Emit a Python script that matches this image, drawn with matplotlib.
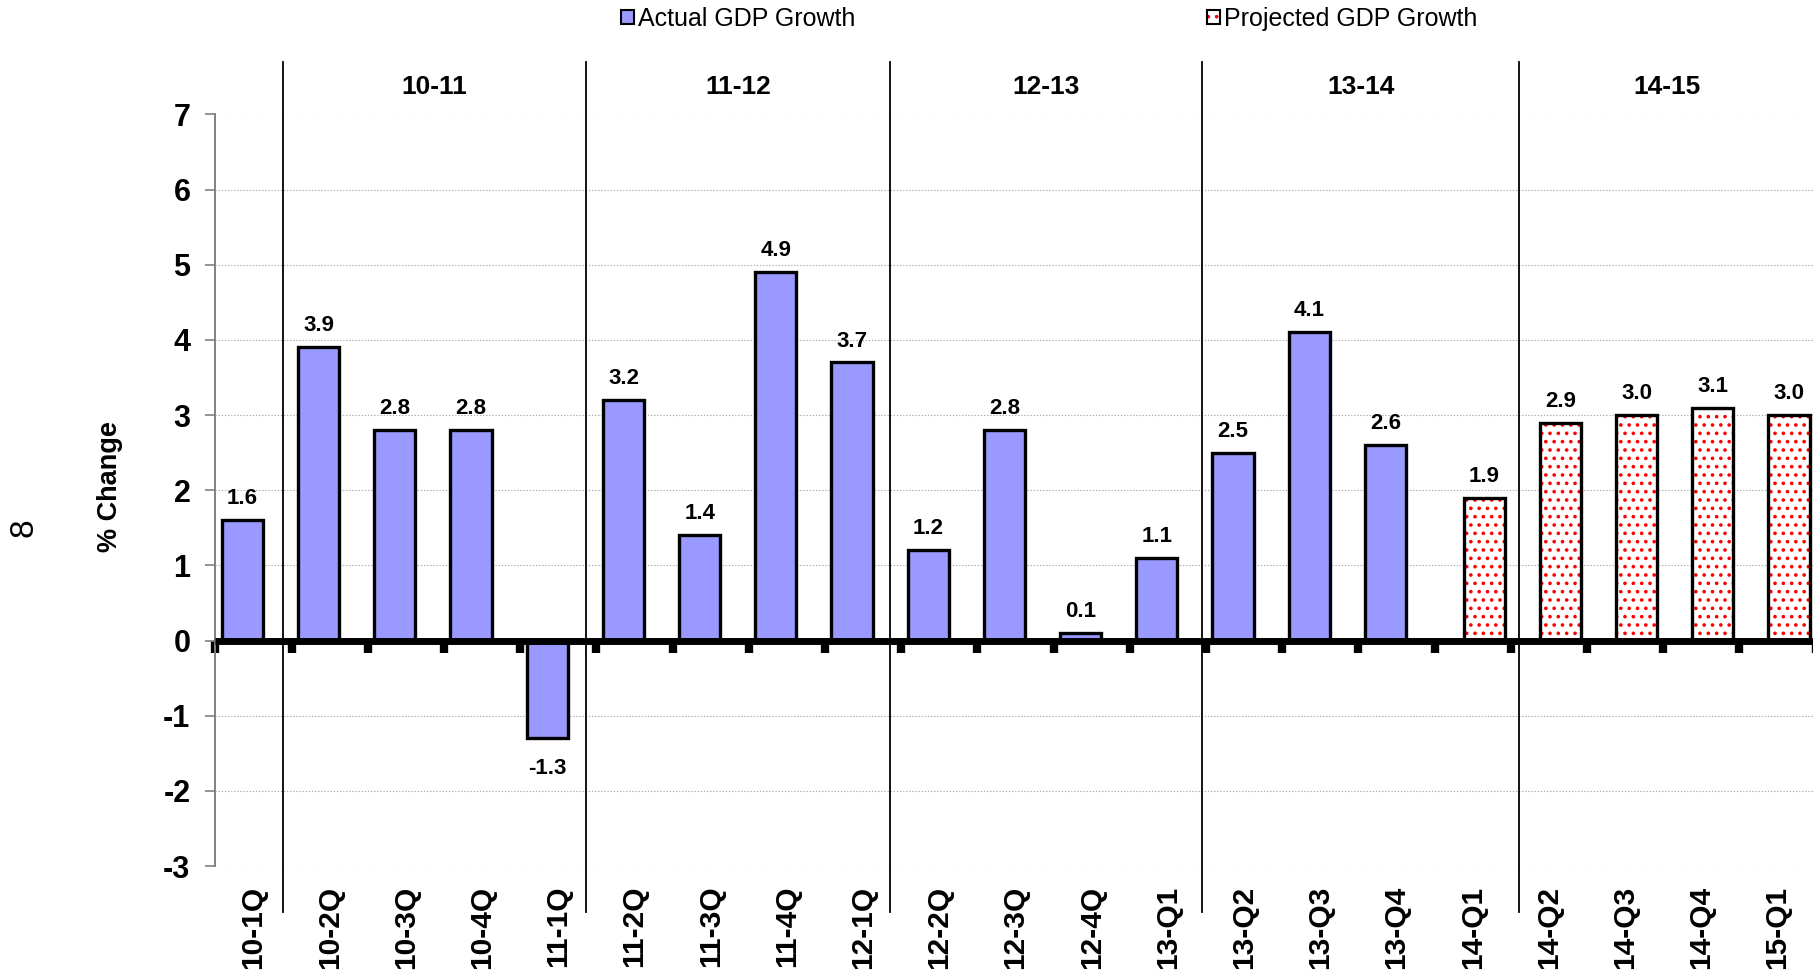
import matplotlib
matplotlib.use("Agg")
import matplotlib.pyplot as plt
from matplotlib.patches import Patch
from matplotlib.transforms import blended_transform_factory
from matplotlib.legend_handler import HandlerTuple
import numpy as np

# ---------------- data ----------------
quarters = ["10-1Q", "10-2Q", "10-3Q", "10-4Q", "11-1Q", "11-2Q", "11-3Q", "11-4Q",
            "12-1Q", "12-2Q", "12-3Q", "12-4Q", "13-Q1", "13-Q2", "13-Q3", "13-Q4",
            "14-Q1", "14-Q2", "14-Q3", "14-Q4", "15-Q1"]
actual = [1.6, 3.9, 2.8, 2.8, -1.3, 3.2, 1.4, 4.9, 3.7, 1.2, 2.8, 0.1, 1.1,
          2.5, 4.1, 2.6, None, None, None, None, None]
projected = [None] * 16 + [1.9, 2.9, 3.0, 3.1, 3.0]
fiscal_years = ["10-11", "11-12", "12-13", "13-14", "14-15"]
yticks = [-3, -2, -1, 0, 1, 2, 3, 4, 5, 6, 7]

# ---------------- layout ----------------
divider_x = [0.886, 4.86, 8.85, 12.95, 17.11]   # fiscal-year separators (category units)

FONT = "Liberation Sans"
plt.rcParams["font.family"] = [FONT, "DejaVu Sans"]
plt.rcParams["hatch.linewidth"] = 1.4

W, H, DPI = 1813, 977, 100
fig = plt.figure(figsize=(W / DPI, H / DPI), dpi=DPI)
ax_left, ax_right = 215.4 / W, 1815.6 / W
ax_bot, ax_top = 1 - 866 / H, 1 - 114.5 / H
ax = fig.add_axes([ax_left, ax_bot, ax_right - ax_left, ax_top - ax_bot])

n = len(quarters)
x = np.arange(n)
act_off, proj_off, bw = 0.355, 0.65, 0.54
ACT_COLOR = "#9999FF"

a_idx = [i for i, v in enumerate(actual) if v is not None]
a_val = [actual[i] for i in a_idx]
p_idx = [i for i, v in enumerate(projected) if v is not None]
p_val = [projected[i] for i in p_idx]

ax.bar(x[a_idx] + act_off, a_val, width=bw, color=ACT_COLOR,
       edgecolor="black", linewidth=2.4, zorder=2)
ax.bar(x[p_idx] + proj_off, p_val, width=bw, color="white",
       edgecolor="red", linewidth=0, hatch="..", zorder=2)
ax.bar(x[p_idx] + proj_off, p_val, width=bw, fill=False,
       edgecolor="black", linewidth=2.4, zorder=2.1)

# value labels
for idxs, vals, off in ((a_idx, a_val, act_off), (p_idx, p_val, proj_off)):
    for i, v in zip(idxs, vals):
        if v >= 0:
            ax.annotate(f"{v:.1f}", (i + off, v), xytext=(0, 11.5),
                        textcoords="offset points", ha="center", va="baseline",
                        fontsize=16, fontweight="bold", zorder=5)
        else:
            ax.annotate(f"{v:.1f}", (i + off, v), xytext=(0, -14),
                        textcoords="offset points", ha="center", va="top",
                        fontsize=16, fontweight="bold", zorder=5)

# axes limits and grid
ax.set_xlim(0, n)
ax.set_ylim(yticks[0], yticks[-1])
ax.set_yticks(yticks)
ax.set_yticklabels([str(t) for t in yticks], fontsize=22, fontweight="bold")
ax.yaxis.grid(True, color="#aaaaaa", linestyle=(0, (1.2, 1.6)), linewidth=0.8, zorder=0)
ax.set_axisbelow(True)
ax.tick_params(axis="y", length=7, width=1.2, color="#808080", pad=11)

for s in ("top", "right"):
    ax.spines[s].set_visible(False)
ax.spines["left"].set_color("#808080")
ax.spines["left"].set_linewidth(1.4)

# category axis at zero: thick line with square tick marks at boundaries
ax.spines["bottom"].set_position(("data", 0))
ax.spines["bottom"].set_linewidth(5)
ax.spines["bottom"].set_zorder(4)
ax.spines["bottom"].set_capstyle("butt")
ax.set_xticks(np.arange(n + 1))
ax.tick_params(axis="x", direction="out", length=8.5, width=6, color="black",
               labelbottom=False)

# category labels along the bottom
sec = ax.secondary_xaxis("bottom")
sec.set_xticks(x + 0.5)
sec.set_xticklabels(quarters, rotation=90, fontsize=21.5, fontweight="bold")
sec.tick_params(length=0, pad=14)
sec.spines["bottom"].set_visible(False)

# fiscal year dividers and labels
bl = blended_transform_factory(ax.transData, fig.transFigure)
for dx in divider_x:
    ax.plot([dx, dx], [1 - 62 / H, 1 - 912 / H], transform=bl, color="black",
            linewidth=1.3, clip_on=False, zorder=3)
bounds = divider_x + [n]
for k, name in enumerate(fiscal_years):
    cx = (bounds[k] + bounds[k + 1]) / 2
    ax.text(cx, 1 - 87 / H, name, transform=bl, ha="center", va="center",
            fontsize=19, fontweight="bold")

# axis titles
fig.text(110 / W, 1 - 487 / H, "% Change", rotation=90, ha="center", va="center",
         fontsize=19.5, fontweight="bold")
fig.text(24 / W, 1 - 528 / H, "8", rotation=90, ha="center", va="center", fontsize=24)

# legends
h_act = Patch(facecolor=ACT_COLOR, edgecolor="black", linewidth=1.5)
h_proj = (Patch(facecolor="white", edgecolor="red", hatch="..", linewidth=0),
          Patch(fill=False, edgecolor="black", linewidth=1.5))
common = dict(frameon=False, fontsize=18, borderpad=0, borderaxespad=0,
              handlelength=0.5, handleheight=0.5, handletextpad=0.2, loc="center left")
fig.legend([h_act], ["Actual GDP Growth"], bbox_to_anchor=(621 / W, 1 - 19 / H), **common)
fig.legend([h_proj], ["Projected GDP Growth"], bbox_to_anchor=(1207 / W, 1 - 19 / H),
           handler_map={tuple: HandlerTuple(ndivide=1, pad=0)}, **common)

fig.savefig("out.png", dpi=DPI)
